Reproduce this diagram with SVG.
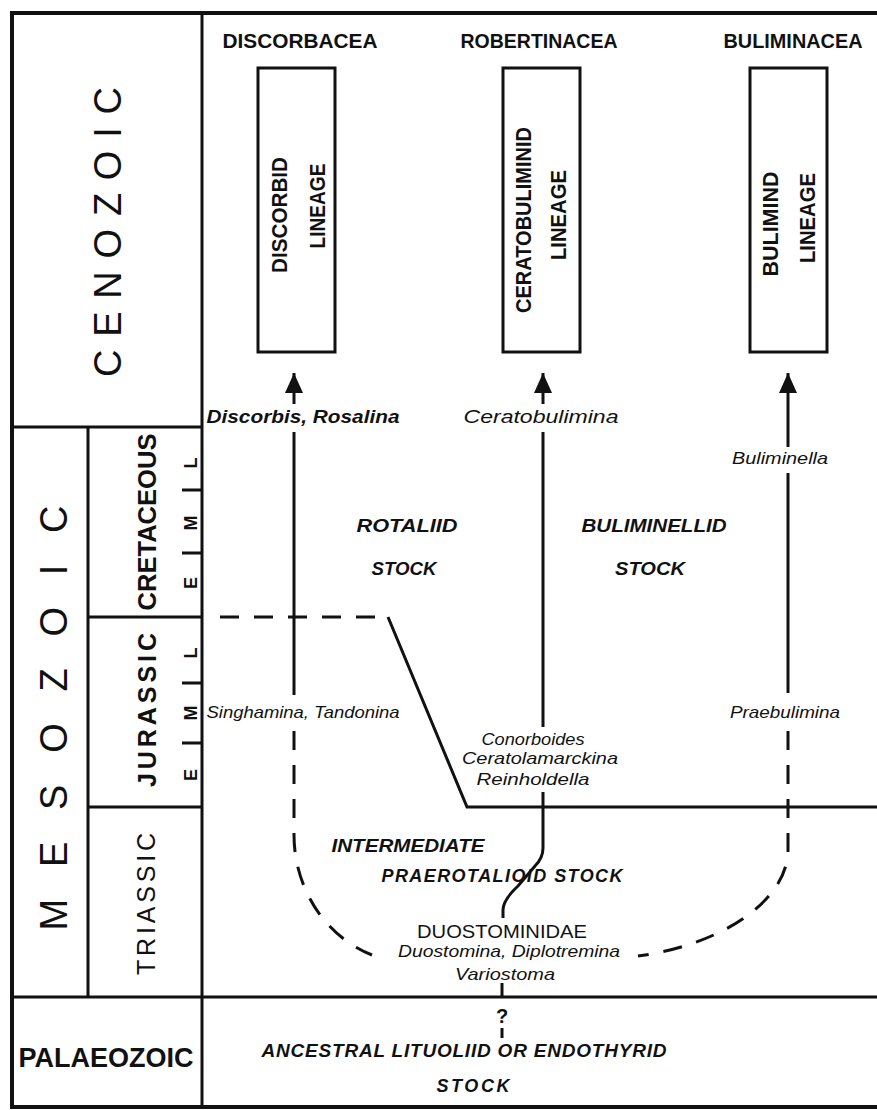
<svg xmlns="http://www.w3.org/2000/svg" width="877" height="1110" viewBox="0 0 877 1110">
<defs>
<style>
.frame{stroke:#111;stroke-width:3;fill:none}
.thick{stroke:#111;stroke-width:4;fill:none}
.ln{stroke:#111;stroke-width:3;fill:none}
.dash{stroke:#111;stroke-width:3;fill:none;stroke-dasharray:19 15}
.box{stroke:#111;stroke-width:3;fill:#fff}
text{font-family:"Liberation Sans",Arial,sans-serif;fill:#111}
.era{font-size:38px}
.per{font-size:25px;font-weight:bold}
.sub{font-size:18px;font-weight:bold}
.hdr{font-size:21px;font-weight:bold}
.lin{font-size:22px;font-weight:bold}
.sp{font-size:17px;font-style:italic}
.spb{font-size:18px;font-style:italic;font-weight:bold}
.stk{font-size:18px;font-style:italic;font-weight:bold}
</style>
<marker id="ah" viewBox="0 0 20 20" refX="20" refY="10" markerWidth="20" markerHeight="20" markerUnits="userSpaceOnUse" orient="auto">
<path d="M0,1 L20,10 L0,19 z" fill="#111"/>
</marker>
</defs>
<rect width="877" height="1110" fill="#fff"/>

<g id="frame">
<path class="thick" d="M877,13 H12 V1107 H877"/>
<path class="frame" d="M202,13 V1107"/>
<path class="frame" d="M12,427 H202"/>
<path class="frame" d="M88,427 V997"/>
<path class="frame" d="M88,617 H202"/>
<path class="frame" d="M88,807 H202"/>
<path class="frame" d="M12,997 H877"/>
<path class="ln" d="M182,490 H202 M182,553 H202 M182,683 H202 M182,743 H202"/>
</g>

<g id="era-cenozoic">
<text class="era" transform="translate(121,232) rotate(-90)" text-anchor="middle" textLength="290" lengthAdjust="spacing">CENOZOIC</text>
</g>
<g id="era-mesozoic">
<text class="era" transform="translate(67,718) rotate(-90)" text-anchor="middle" textLength="425" lengthAdjust="spacing">MESOZOIC</text>
</g>
<g id="era-palaeozoic">
<text class="per" x="106" y="1067" text-anchor="middle" textLength="175" lengthAdjust="spacingAndGlyphs" style="font-size:27px">PALAEOZOIC</text>
</g>

<g id="period-cretaceous">
<text class="per" transform="translate(156,522) rotate(-90)" text-anchor="middle" textLength="177" lengthAdjust="spacingAndGlyphs">CRETACEOUS</text>
<text class="sub" transform="translate(197,463) rotate(-90)" text-anchor="middle">L</text>
<text class="sub" transform="translate(197,523) rotate(-90)" text-anchor="middle">M</text>
<text class="sub" transform="translate(197,583) rotate(-90)" text-anchor="middle">E</text>
</g>
<g id="period-jurassic">
<text class="per" transform="translate(156,710) rotate(-90)" text-anchor="middle" textLength="154" lengthAdjust="spacing">JURASSIC</text>
<text class="sub" transform="translate(197,653) rotate(-90)" text-anchor="middle">L</text>
<text class="sub" transform="translate(197,713) rotate(-90)" text-anchor="middle">M</text>
<text class="sub" transform="translate(197,775) rotate(-90)" text-anchor="middle">E</text>
</g>
<g id="period-triassic">
<text class="per" transform="translate(155,904) rotate(-90)" text-anchor="middle" textLength="142" lengthAdjust="spacing" style="font-weight:normal">TRIASSIC</text>
</g>

<g id="hdr-discorbacea"><text class="hdr" x="300" y="48" text-anchor="middle" textLength="155" lengthAdjust="spacingAndGlyphs">DISCORBACEA</text></g>
<g id="hdr-robertinacea"><text class="hdr" x="539" y="48" text-anchor="middle" textLength="157" lengthAdjust="spacingAndGlyphs">ROBERTINACEA</text></g>
<g id="hdr-buliminacea"><text class="hdr" x="793" y="48" text-anchor="middle" textLength="139" lengthAdjust="spacingAndGlyphs">BULIMINACEA</text></g>

<g id="box-discorbid">
<rect class="box" x="258" y="68" width="77" height="284"/>
<text class="lin" transform="translate(287,215) rotate(-90)" text-anchor="middle" textLength="116" lengthAdjust="spacingAndGlyphs">DISCORBID</text>
<text class="lin" transform="translate(325,206) rotate(-90)" text-anchor="middle" textLength="85" lengthAdjust="spacingAndGlyphs">LINEAGE</text>
</g>
<g id="box-ceratobuliminid">
<rect class="box" x="503" y="68" width="77" height="284"/>
<text class="lin" transform="translate(531,220) rotate(-90)" text-anchor="middle" textLength="186" lengthAdjust="spacingAndGlyphs">CERATOBULIMINID</text>
<text class="lin" transform="translate(566,215) rotate(-90)" text-anchor="middle" textLength="90" lengthAdjust="spacingAndGlyphs">LINEAGE</text>
</g>
<g id="box-bulimind">
<rect class="box" x="750" y="68" width="77" height="284"/>
<text class="lin" transform="translate(778,224) rotate(-90)" text-anchor="middle" textLength="105" lengthAdjust="spacingAndGlyphs">BULIMIND</text>
<text class="lin" transform="translate(815,218) rotate(-90)" text-anchor="middle" textLength="90" lengthAdjust="spacingAndGlyphs">LINEAGE</text>
</g>

<g id="connectors">
<path class="ln" d="M294,404 V373" marker-end="url(#ah)"/>
<path class="ln" d="M543,404 V373" marker-end="url(#ah)"/>
<path class="ln" d="M788,447 V373" marker-end="url(#ah)"/>
<path class="ln" d="M294,432 V695"/>
<path class="ln" d="M543,432 V727"/>
<path class="ln" d="M788,473 V693"/>
<path class="ln" d="M543,792 V848 Q543,858 535,866 L518,886 Q503,900 503,910 V918"/>
<path class="dash" d="M294,731 V835 C294,885 322,935 372,955"/>
<path class="dash" d="M788,731 V850 C788,900 722,945 638,956"/>
<path class="dash" d="M220,617 H390"/>
<path class="ln" d="M388,617 L467,807 H877"/>
<path class="ln" d="M502,983 V997"/>
<path class="ln" d="M502,1028 V1038"/>
</g>

<g id="labels">
<text class="spb" x="303" y="423" text-anchor="middle" textLength="193" lengthAdjust="spacingAndGlyphs">Discorbis, Rosalina</text>
<text class="sp" x="541" y="423" text-anchor="middle" textLength="155" lengthAdjust="spacingAndGlyphs" style="font-size:18px">Ceratobulimina</text>
<text class="sp" x="780" y="464" text-anchor="middle" textLength="96" lengthAdjust="spacingAndGlyphs">Buliminella</text>
<text class="sp" x="785" y="718" text-anchor="middle" textLength="110" lengthAdjust="spacingAndGlyphs">Praebulimina</text>
<text class="sp" x="303" y="718" text-anchor="middle" textLength="193" lengthAdjust="spacingAndGlyphs">Singhamina, Tandonina</text>
<text class="sp" x="533" y="745" text-anchor="middle" textLength="103" lengthAdjust="spacingAndGlyphs">Conorboides</text>
<text class="sp" x="540" y="764" text-anchor="middle" textLength="156" lengthAdjust="spacingAndGlyphs">Ceratolamarckina</text>
<text class="sp" x="533" y="785" text-anchor="middle" textLength="113" lengthAdjust="spacingAndGlyphs">Reinholdella</text>
</g>

<g id="stock-rotaliid">
<text class="stk" x="407" y="532" text-anchor="middle" textLength="101" lengthAdjust="spacingAndGlyphs">ROTALIID</text>
<text class="stk" x="404" y="575" text-anchor="middle" textLength="65" lengthAdjust="spacingAndGlyphs">STOCK</text>
</g>
<g id="stock-buliminellid">
<text class="stk" x="654" y="532" text-anchor="middle" textLength="145" lengthAdjust="spacingAndGlyphs">BULIMINELLID</text>
<text class="stk" x="650" y="575" text-anchor="middle" textLength="70" lengthAdjust="spacingAndGlyphs">STOCK</text>
</g>
<g id="stock-intermediate">
<text class="stk" x="408" y="852" text-anchor="middle" textLength="153" lengthAdjust="spacingAndGlyphs">INTERMEDIATE</text>
<text class="stk" x="502" y="882" text-anchor="middle" textLength="241" lengthAdjust="spacing">PRAEROTALIOID STOCK</text>
</g>
<g id="duostominidae">
<text x="502" y="938" text-anchor="middle" textLength="170" lengthAdjust="spacingAndGlyphs" style="font-size:19px">DUOSTOMINIDAE</text>
<text class="sp" x="509" y="957" text-anchor="middle" textLength="222" lengthAdjust="spacingAndGlyphs">Duostomina, Diplotremina</text>
<text class="sp" x="505" y="980" text-anchor="middle" textLength="100" lengthAdjust="spacingAndGlyphs">Variostoma</text>
</g>
<g id="ancestral-stock">
<text x="502" y="1023" text-anchor="middle" style="font-size:20px;font-weight:bold">?</text>
<text class="stk" x="464" y="1057" text-anchor="middle" textLength="405" lengthAdjust="spacing" style="font-size:19px">ANCESTRAL LITUOLIID OR ENDOTHYRID</text>
<text class="stk" x="473" y="1092" text-anchor="middle" textLength="73" lengthAdjust="spacing">STOCK</text>
</g>
</svg>
